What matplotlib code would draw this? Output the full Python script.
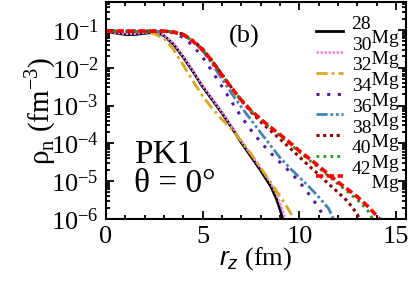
import matplotlib
matplotlib.use("Agg")
import matplotlib.pyplot as plt
from matplotlib.ticker import MultipleLocator, LogLocator, NullFormatter

plt.rcParams['font.family'] = ['Liberation Serif', 'DejaVu Serif']
plt.rcParams['mathtext.fontset'] = 'custom'
plt.rcParams['mathtext.rm'] = 'Liberation Serif'
plt.rcParams['mathtext.it'] = 'Liberation Sans:italic'
plt.rcParams['axes.unicode_minus'] = False

# neutron density along z axis, log10(rho_n)
r_28 = [0, 0.5, 1, 1.5, 2, 2.5, 3, 3.5, 4, 4.5, 5, 5.5, 6, 6.5, 7, 7.5, 8, 8.5, 8.8, 9.0, 9.2]
lg_28 = [-1.04, -1.08, -1.12, -1.12, -1.09, -1.06, -1.15, -1.38, -1.72, -2.1, -2.5, -2.85, -3.2, -3.58,
         -3.98, -4.35, -4.72, -5.12, -5.45, -5.75, -6.1]

r_30 = [0, 0.5, 1, 1.5, 2, 2.5, 3, 3.5, 4, 4.5, 5, 5.5, 6, 6.5, 7, 7.5, 8, 8.5, 8.8, 9.0, 9.2, 9.35]
lg_30 = [-1.04, -1.07, -1.1, -1.1, -1.07, -1.05, -1.13, -1.35, -1.69, -2.07, -2.47, -2.82, -3.17, -3.55,
         -3.94, -4.3, -4.66, -5.04, -5.33, -5.58, -5.88, -6.1]

r_32 = [0, 1, 2, 2.5, 3, 3.5, 4, 4.5, 5, 5.5, 6, 6.5, 7, 7.5, 8, 8.5, 9, 9.5, 9.8]
lg_32 = [-1.04, -1.04, -1.05, -1.1, -1.22, -1.52, -1.93, -2.35, -2.75, -3.08, -3.37, -3.63, -3.94,
         -4.28, -4.65, -5.02, -5.4, -5.8, -6.1]

r_34 = [0, 1, 2, 3, 3.5, 4, 4.5, 5, 5.5, 6, 6.5, 7, 7.5, 8, 8.5, 9, 9.5, 10, 10.5, 11, 11.4]
lg_34 = [-1.04, -1.04, -1.04, -1.04, -1.08, -1.2, -1.42, -1.72, -2.1, -2.5, -2.9, -3.3, -3.65, -3.97,
         -4.25, -4.5, -4.75, -5.02, -5.35, -5.7, -6.1]

r_36 = [0, 1, 2, 3, 3.5, 4, 4.5, 5, 5.5, 6, 6.5, 7, 7.5, 8, 8.5, 9, 9.5, 10, 10.5, 11, 11.5, 11.85]
lg_36 = [-1.04, -1.04, -1.04, -1.04, -1.06, -1.13, -1.3, -1.55, -1.9, -2.3, -2.68, -3.04, -3.38, -3.72,
         -4.05, -4.38, -4.65, -4.9, -5.15, -5.42, -5.72, -6.1]

r_38 = [0, 1, 2, 3, 3.5, 4, 4.5, 5, 5.5, 6, 6.5, 7, 7.5, 8, 8.5, 9, 9.5, 10, 10.5, 11, 11.5, 12,
        12.5, 13, 13.15]
lg_38 = [-1.03, -1.03, -1.03, -1.03, -1.05, -1.11, -1.28, -1.5, -1.82, -2.18, -2.53, -2.87, -3.17, -3.43,
         -3.66, -3.89, -4.12, -4.36, -4.6, -4.83, -5.07, -5.3, -5.54, -5.88, -6.1]

r_40 = [0, 1, 2, 3, 3.5, 4, 4.5, 5, 5.5, 6, 6.5, 7, 7.5, 8, 8.5, 9, 9.5, 10, 10.5, 11, 11.5, 12,
        12.5, 13, 13.5, 13.9]
lg_40 = [-1.03, -1.03, -1.03, -1.03, -1.06, -1.12, -1.3, -1.52, -1.83, -2.19, -2.54, -2.86, -3.14, -3.38,
         -3.59, -3.8, -4.01, -4.23, -4.44, -4.65, -4.86, -5.08, -5.28, -5.5, -5.75, -6.1]

r_42 = [0, 1, 2, 3, 3.5, 4, 4.5, 5, 5.5, 6, 6.5, 7, 7.5, 8, 8.5, 9, 9.5, 10, 10.5, 11, 11.5, 12,
        12.5, 13, 13.5, 14, 14.3]
lg_42 = [-1.03, -1.03, -1.03, -1.03, -1.06, -1.12, -1.3, -1.52, -1.83, -2.19, -2.54, -2.86, -3.13, -3.36,
         -3.57, -3.77, -3.98, -4.2, -4.4, -4.6, -4.82, -5.03, -5.22, -5.42, -5.65, -5.92, -6.1]

# mass number written above, element name set lower, as in the original legend
mass = ['28', '30', '32', '34', '36', '38', '40', '42']
labels = [a + '\n    Mg' for a in mass]
series = [(r_28, lg_28), (r_30, lg_30), (r_32, lg_32), (r_34, lg_34),
          (r_36, lg_36), (r_38, lg_38), (r_40, lg_40), (r_42, lg_42)]
colors = ['black', 'violet', 'goldenrod', '#551a9a', 'steelblue', 'darkred', '#229922', 'red']
styles = ['-', (0, (1, 0.6)), (0, (4, 1.5, 1, 1.5)), (0, (1, 2.5)), (0, (4, 1, 1, 1, 1, 1)),
          (0, (1, 1.2)), (0, (1, 1.5)), (0, (2, 1))]
widths = [2.0, 1.8, 2.0, 2.2, 2.0, 2.2, 2.0, 2.6]

fig = plt.figure(figsize=(4.15, 2.81), dpi=100)
ax = fig.add_axes([0.255, 0.221, 0.723, 0.772])

for (r, lg), lab, c, ls, lw in zip(series, labels, colors, styles, widths):
    ax.plot(r, [10 ** v for v in lg], color=c, linestyle=ls, linewidth=lw, label=lab)

ax.set_yscale('log')
ax.set_xlim(0, 15.5)
ax.set_ylim(1e-6, 0.55)
ax.xaxis.set_major_locator(MultipleLocator(5))
ax.xaxis.set_minor_locator(MultipleLocator(1))
ax.yaxis.set_major_locator(LogLocator(base=10, numticks=10))
ax.yaxis.set_minor_locator(LogLocator(base=10, subs=[i / 10 for i in range(2, 10)], numticks=20))
ax.yaxis.set_minor_formatter(NullFormatter())

ax.tick_params(which='both', direction='in', top=True, right=True, width=1.3, labelsize=19)
ax.tick_params(which='major', length=6, pad=5)
ax.tick_params(which='minor', length=3)
for s in ax.spines.values():
    s.set_linewidth(1.5)

ax.set_xlabel('$r_z$ (fm)', fontsize=19, labelpad=-2)
ax.set_ylabel('ρ$_\\mathrm{n}$ (fm$^{-3}$)', fontsize=21, labelpad=-5)

ax.text(0.463, 0.84, '(b)', transform=ax.transAxes, fontsize=19, ha='center', va='center')
ax.text(0.095, 0.295, 'PK1', transform=ax.transAxes, fontsize=24, ha='left', va='center')
ax.text(0.095, 0.16, 'θ = 0°', transform=ax.transAxes, fontsize=24, ha='left', va='center')

leg = ax.legend(loc='upper right', bbox_to_anchor=(0.975, 0.935), frameon=False, fontsize=14,
                handlelength=1.4, handletextpad=0.45, labelspacing=-0.55, borderpad=0, borderaxespad=0)
for t in leg.get_texts():
    t.set_linespacing(0.8)

fig.savefig('out.png', dpi=100)
